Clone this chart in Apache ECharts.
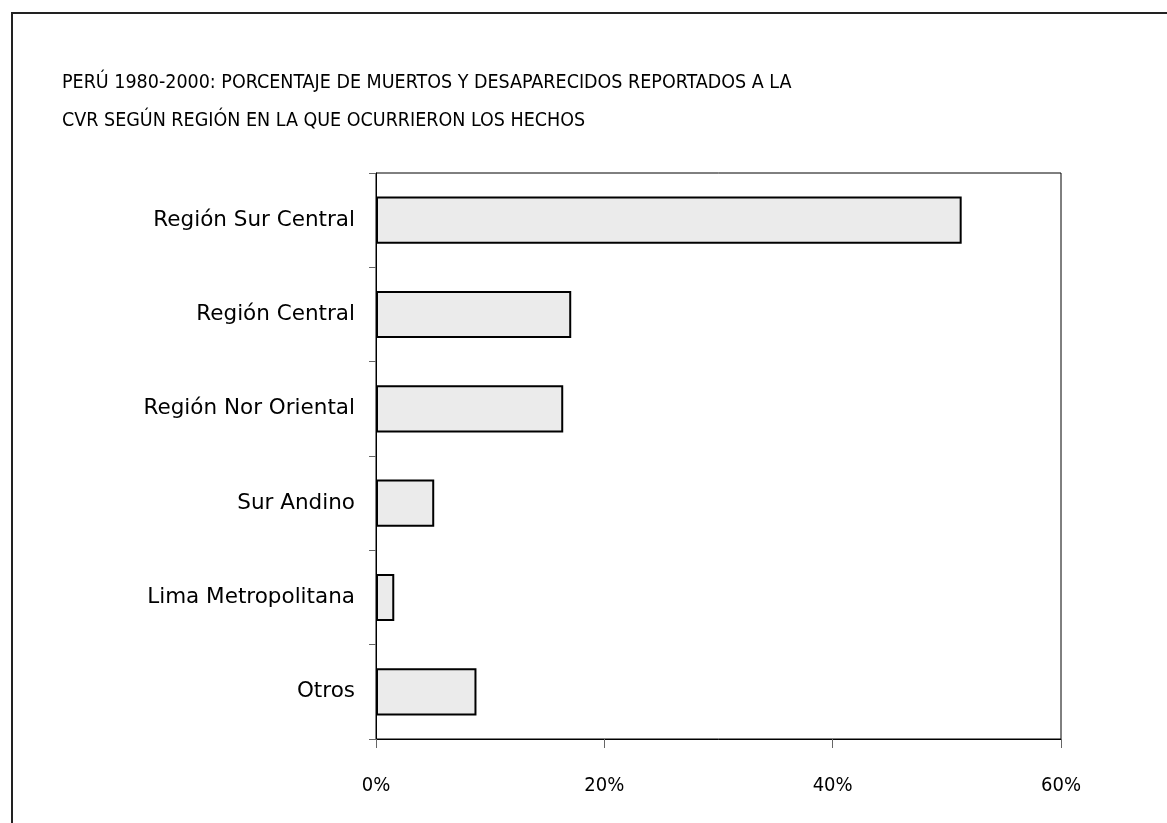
<!DOCTYPE html>
<html>
<head>
<meta charset="utf-8">
<script src="https://cdn.jsdelivr.net/npm/echarts@6/dist/echarts.min.js"></script>
<style>
  html, body { margin: 0; padding: 0; background: #fff; }
  #chart { width: 1167px; height: 823px; }
</style>
</head>
<body>
<div id="chart"></div>
<script>
// datos
const regiones = ['Región Sur Central', 'Región Central', 'Región Nor Oriental', 'Sur Andino', 'Lima Metropolitana', 'Otros']
const porcentajes = [51.3, 17.1, 16.4, 5.1, 1.6, 8.8]
const ticksX = [0, 20, 40, 60]

const fuente = 'DejaVu Sans'
const fuenteEstrecha = '"Liberation Sans Narrow", "DejaVu Sans Condensed", sans-serif'

const chart = echarts.init(document.getElementById('chart'))

const option = {
    animation: false,
    backgroundColor: '#fff',
    textStyle: {
        fontFamily: fuente,
        color: '#000'
    },
    title: {
        text: 'PERÚ 1980-2000: PORCENTAJE DE MUERTOS Y DESAPARECIDOS REPORTADOS A LA\nCVR SEGÚN REGIÓN EN LA QUE OCURRIERON LOS HECHOS',
        left: 57,
        top: 59,
        textStyle: {
            fontFamily: fuenteEstrecha,
            fontSize: 19.5,
            fontWeight: 'normal',
            color: '#000',
            lineHeight: 38
        }
    },
    graphic: [{
        type: 'rect',
        shape: { x: 12, y: 13, width: 1300, height: 900 },
        style: { fill: 'none', stroke: '#222', lineWidth: 2 },
        silent: true
    }],
    grid: {
        left: 376,
        top: 173,
        right: 106,
        bottom: 84,
        show: true,
        borderColor: '#000',
        borderWidth: 1,
        backgroundColor: 'transparent'
    },
    xAxis: {
        type: 'value',
        min: ticksX[0],
        max: ticksX[ticksX.length - 1],
        interval: 20,
        splitLine: { show: false },
        axisLine: { show: true, lineStyle: { color: '#000', width: 1 } },
        axisTick: { show: true, length: 9, inside: false, lineStyle: { color: '#666' } },
        axisLabel: {
            margin: 37,
            color: '#000',
            fontSize: 20,
            fontFamily: fuenteEstrecha,
            formatter: '{value}%'
        }
    },
    yAxis: {
        type: 'category',
        data: regiones,
        inverse: true,
        axisLine: { show: true, lineStyle: { color: '#000', width: 1 } },
        axisTick: { show: true, length: 7, alignWithLabel: false, lineStyle: { color: '#666' } },
        axisLabel: {
            margin: 21,
            color: '#000',
            fontSize: 21.5,
            fontFamily: fuente
        },
        splitLine: { show: false }
    },
    series: [{
        type: 'bar',
        data: porcentajes,
        barCategoryGap: '50%',
        itemStyle: {
            color: '#ebebeb',
            borderColor: '#000',
            borderWidth: 2
        }
    }]
}

chart.setOption(option)
</script>
</body>
</html>
